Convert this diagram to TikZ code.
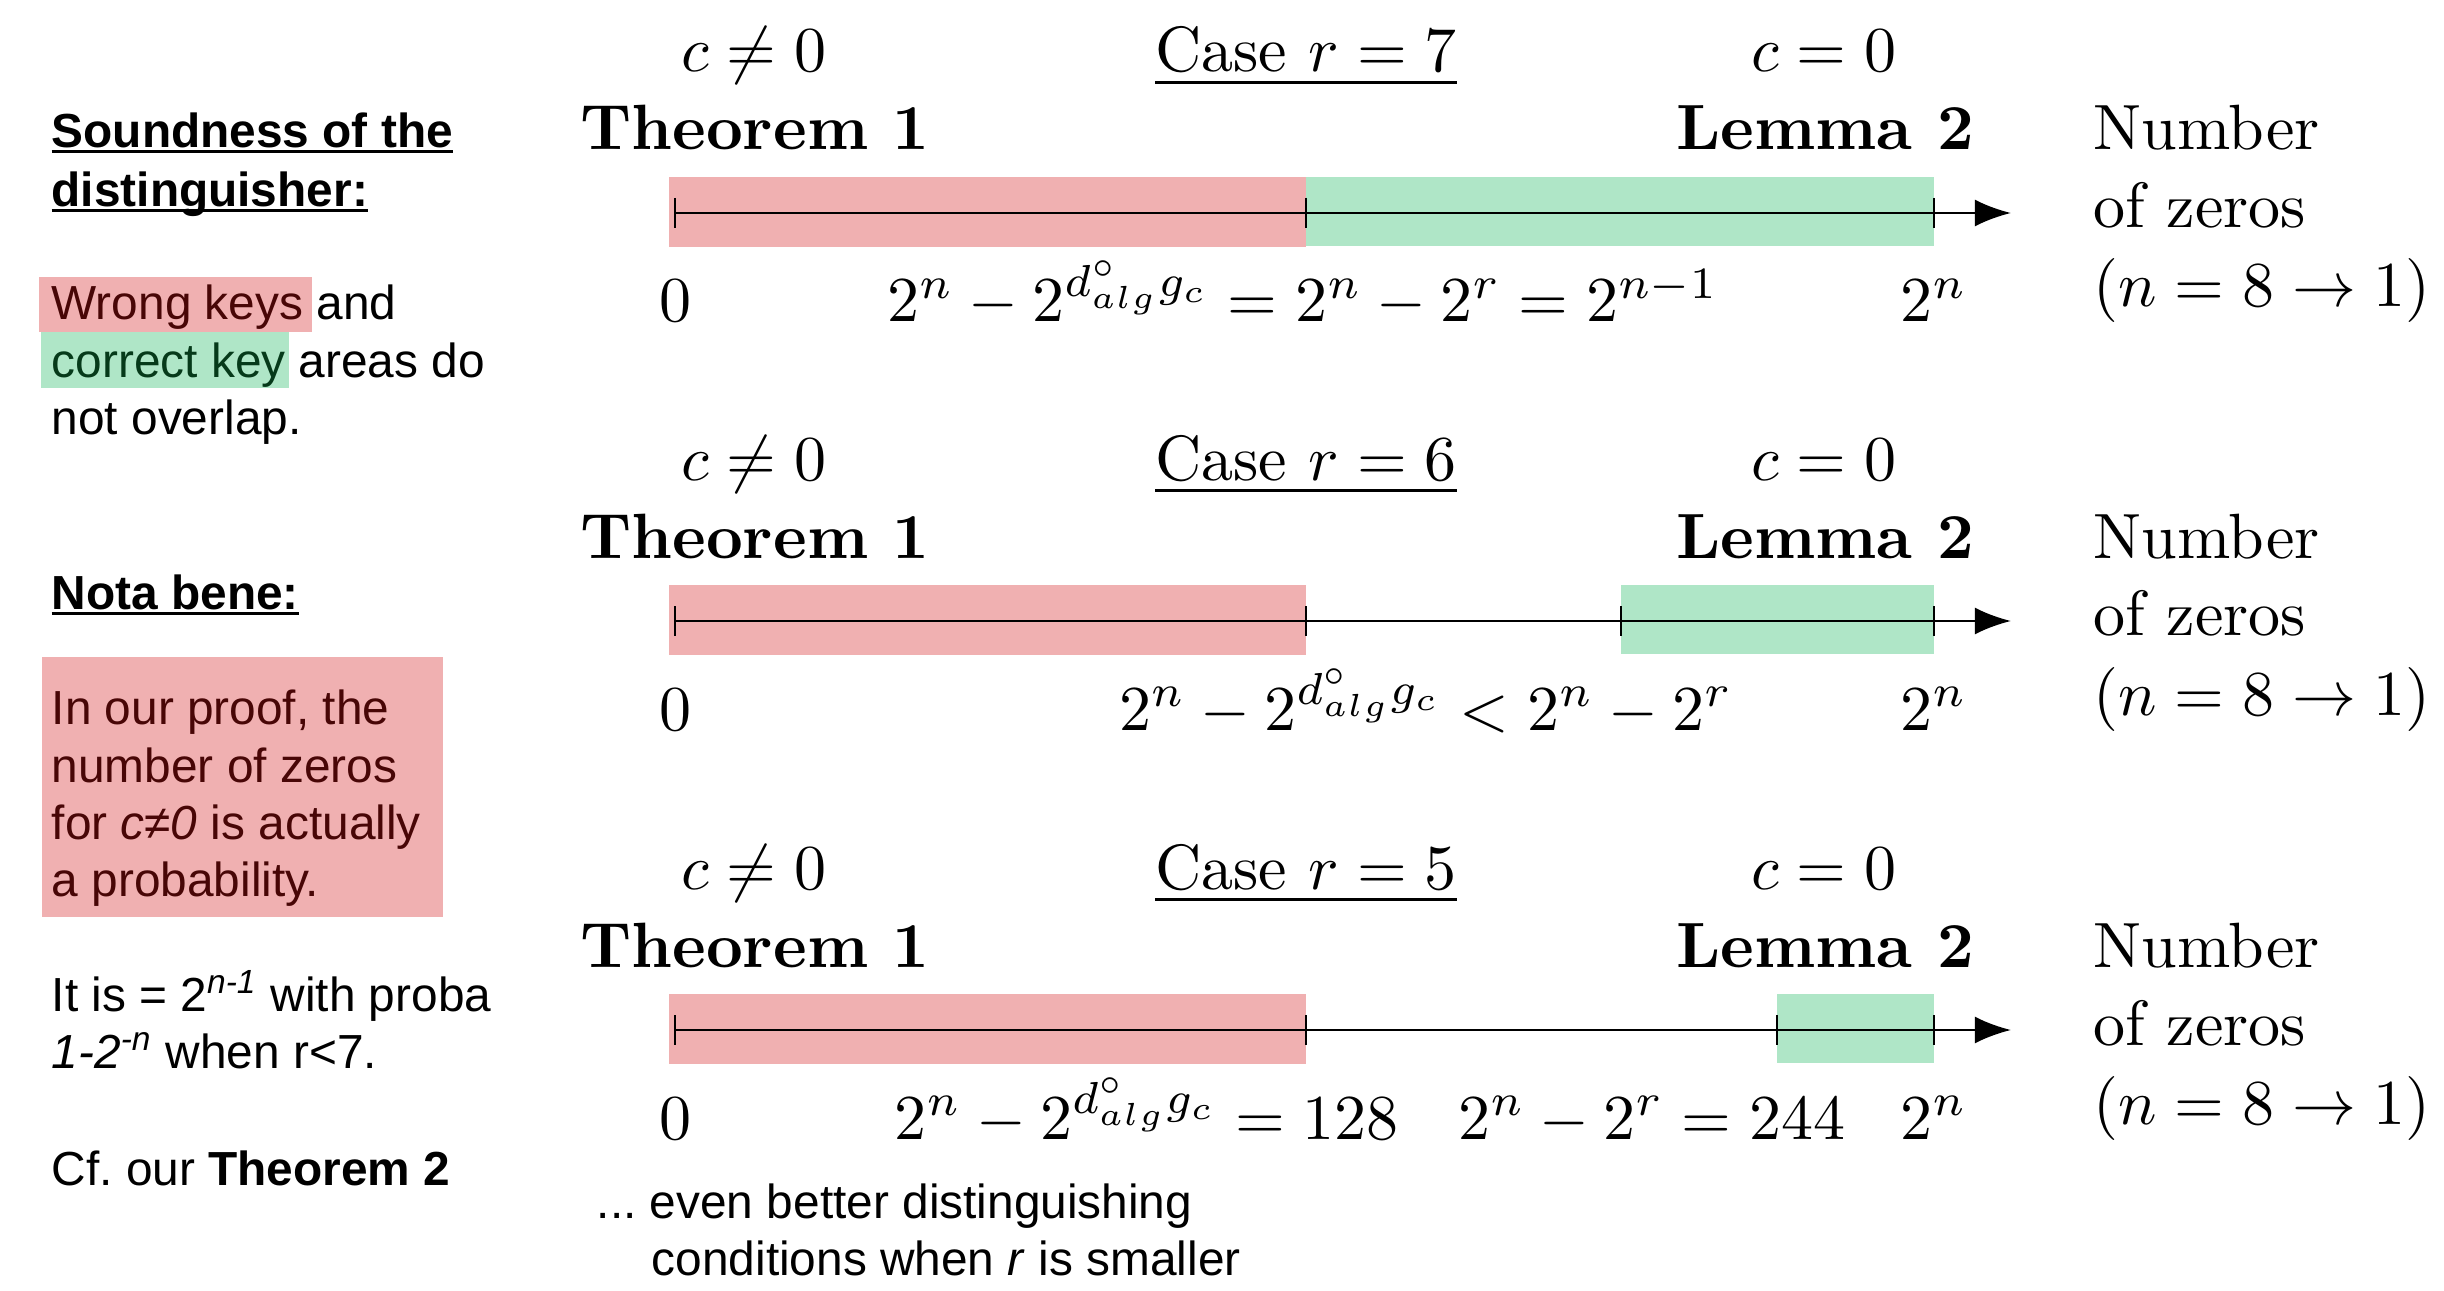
\RequirePackage{fix-cm}
\documentclass[tikz,border=0pt]{standalone}
\usepackage{amsmath,amssymb}
\usepackage{graphicx}
\usepackage{fontspec}
\setsansfont{Liberation Sans}
\usetikzlibrary{arrows.meta}

\definecolor{wrongfill}{RGB}{240,176,177}
\definecolor{rightfill}{RGB}{175,230,199}
\definecolor{wrongtext}{RGB}{72,6,6}
\definecolor{righttext}{RGB}{6,58,26}

% underline sitting just under the baseline
\newcommand{\ulbase}[1]{\setbox0\hbox{#1}\rlap{\rule[-1.4pt]{\wd0}{0.9pt}}\box0}
% 10pt design, blown up
\newcommand{\enl}[1]{\scalebox{1.82}{#1}}
\newcommand{\dalg}{2^{d^{\circ}_{alg}g_c}}

\begin{document}
\begin{tikzpicture}[x=0.01cm, y=-0.01cm,
  serif/.style={font=\fontsize{10}{12}\selectfont, inner sep=0pt, anchor=base},
  note/.style={font=\sffamily\fontsize{13.6}{16.3}\selectfont\frenchspacing, inner sep=0pt, anchor=base west},
  axis/.style={line width=0.8pt, -{Latex[length=0.36cm, width=0.27cm]}},
  tick/.style={line width=0.45pt},
  wrongarea/.style={fill=wrongfill, draw=none},
  rightarea/.style={fill=rightfill, draw=none}]
  \useasboundingbox (0,0) rectangle (2444,1291);

  % left column
  \node[note] (sound1) at (51,148) {\bfseries\ulbase{Soundness of the}};
  \node[note] (sound2) at (51,207) {\bfseries\ulbase{distinguisher:}};
  \fill[wrongfill] (39,277) rectangle (312,332);
  \fill[rightfill] (41,332) rectangle (289,388);
  \node[note] (keys1) at (51,320) {\textcolor{wrongtext}{Wrong keys} and};
  \node[note] (keys2) at (51,377) {\textcolor{righttext}{correct key} areas do};
  \node[note] (keys3) at (51,435) {not overlap.};
  \node[note] (nota) at (51,610) {\bfseries\ulbase{Nota bene:}};
  \fill[wrongfill] (42,657) rectangle (443,917);
  \node[note, text=wrongtext] (proof1) at (51,724) {In our proof, the};
  \node[note, text=wrongtext] (proof2) at (51,782) {number of zeros};
  \node[note, text=wrongtext] (proof3) at (51,839) {for \textit{c≠0} is actually};
  \node[note, text=wrongtext] (proof4) at (51,896) {a probability.};
  \node[note] (proba1) at (51,1011) {It is = 2\textsuperscript{\textit{n-1}} with proba};
  \node[note] (proba2) at (51,1068) {\textit{1-2}\textsuperscript{\textit{-n}} when r<7.};
  \node[note] (cf) at (51,1185) {Cf. our \textbf{Theorem 2}};

  % the three cases
  \foreach \r/\dy/\g in {7/0/1306, 6/408/1621, 5/817/1777} {
    \node[serif] (cnz\r) at (754,72+\dy) {\enl{$c\neq 0$}};
    \node[serif] (case\r) at (1306,72+\dy) {\enl{\underline{Case $r=\r$}}};
    \node[serif] (cz\r) at (1824,72+\dy) {\enl{$c=0$}};
    \node[serif] (thm\r) at (755,150+\dy) {\enl{\bfseries Theorem 1}};
    \node[serif] (lem\r) at (1825,150+\dy) {\enl{\bfseries Lemma 2}};
    \node[serif, anchor=base west] (num\r) at (2093,150+\dy) {\enl{Number}};
    \node[serif, anchor=base west] (zer\r) at (2093,228+\dy) {\enl{of zeros}};
    \node[serif, anchor=base west] (rng\r) at (2093,307+\dy) {\enl{$(n=8\to 1)$}};
    \fill[wrongarea] (669,177+\dy) rectangle (1306,247+\dy);
    \fill[rightarea] (\g,177+\dy) rectangle (1934,246+\dy);
    \draw[axis] (675,213+\dy) -- (2011,213+\dy);
    \foreach \t in {675,1306,\g,1934}
      \draw[tick] (\t,198+\dy) -- (\t,228+\dy);
    \node[serif] (zero\r) at (675,322+\dy) {\enl{$0$}};
    \node[serif] (top\r) at (1934,322+\dy) {\enl{$2^n$}};
  }
  \node[serif] (bound7) at (1303,322) {\enl{$2^n-\dalg=2^n-2^r=2^{n-1}$}};
  \node[serif] (bound6) at (1426,730) {\enl{$2^n-\dalg<2^n-2^r$}};
  \node[serif] (bound5a) at (1147,1139) {\enl{$2^n-\dalg=128$}};
  \node[serif] (bound5b) at (1652,1139) {\enl{$2^n-2^r=244$}};

  \node[note] (better1) at (596,1218) {... even better distinguishing};
  \node[note] (better2) at (651,1275) {conditions when \textit{r} is smaller};
\end{tikzpicture}
\end{document}
